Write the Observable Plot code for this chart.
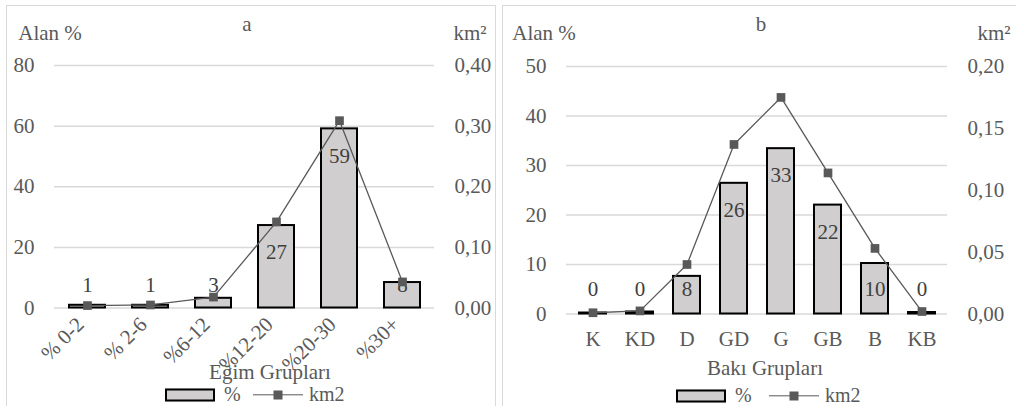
<!DOCTYPE html>
<html>
<head>
<meta charset="utf-8">
<script src="https://cdn.jsdelivr.net/npm/d3@7"></script>
<script src="https://cdn.jsdelivr.net/npm/@observablehq/plot@0.6"></script>
<style>
  body { margin: 0; background: #fff; }
  #page { position: relative; width: 1016px; height: 406px; overflow: hidden; font-family: "Liberation Serif", serif; color: #595959; }
  .panel { position: absolute; border: 1.5px solid #d9d9d9; box-sizing: border-box; }
  .lbl { position: absolute; transform: translate(-50%, -50%); white-space: nowrap; font-size: 21px; line-height: 1; }
  .ltxt { position: absolute; transform: translate(0, -50%); white-space: nowrap; font-size: 20px; line-height: 1; }
  .svgwrap { position: absolute; top: 0; }
  .sw-bar { position: absolute; width: 50px; height: 13px; background: #d0cece; border: 2px solid #000; box-sizing: border-box; transform: translate(0, -50%); }
  .sw-line { position: absolute; width: 50px; height: 1.4px; background: #595959; transform: translate(0, -50%); }
  .sw-mark { position: absolute; width: 9px; height: 9px; background: #595959; transform: translate(-50%, -50%); }
</style>
</head>
<body>
<div id="page">
  <div class="panel" style="left:6px; top:5px; width:490px; height:420px;"></div>
  <div class="panel" style="left:502px; top:5px; width:530px; height:420px;"></div>
  <div id="a" class="svgwrap" style="left:0px;"></div>
  <div id="b" class="svgwrap" style="left:500px;"></div>

  <div class="lbl" style="left:247px; top:24px;">a</div>
  <div class="lbl" style="left:50px; top:33px;">Alan %</div>
  <div class="lbl" style="left:470px; top:33px;">km²</div>
  <div class="lbl" style="left:270px; top:372px;">Eğim Grupları</div>
  <div class="sw-bar" style="left:165px; top:395px;"></div>
  <div class="ltxt" style="left:224px; top:394px;">%</div>
  <div class="sw-line" style="left:253px; top:395px;"></div>
  <div class="sw-mark" style="left:278px; top:395px;"></div>
  <div class="ltxt" style="left:309px; top:394px;">km2</div>

  <div class="lbl" style="left:761px; top:24px;">b</div>
  <div class="lbl" style="left:544px; top:33px;">Alan %</div>
  <div class="lbl" style="left:994px; top:33px;">km²</div>
  <div class="lbl" style="left:765px; top:368px;">Bakı Grupları</div>
  <div class="sw-bar" style="left:676px; top:396px;"></div>
  <div class="ltxt" style="left:735px; top:395px;">%</div>
  <div class="sw-line" style="left:769px; top:396px;"></div>
  <div class="sw-mark" style="left:794px; top:396px;"></div>
  <div class="ltxt" style="left:825px; top:395px;">km2</div>
</div>
<script>
// Panel a: slope groups
const slopeGroups = ["% 0-2", "% 2-6", "%6-12", "%12-20", "%20-30", "%30+"];
const slopePct = [0.9, 0.9, 3.2, 27.2, 59.1, 8.4];
const slopeKm2 = [0.004, 0.005, 0.018, 0.142, 0.309, 0.043];
const slopeLeftTicks = [0, 20, 40, 60, 80];
const slopeRightTicks = [0, 0.10, 0.20, 0.30, 0.40];

// Panel b: aspect groups
const aspectGroups = ["K", "KD", "D", "GD", "G", "GB", "B", "KB"];
const aspectPct = [0.2, 0.4, 7.6, 26.4, 33.4, 22.0, 10.2, 0.3];
const aspectKm2 = [0.001, 0.0025, 0.040, 0.137, 0.175, 0.114, 0.053, 0.002];
const aspectLeftTicks = [0, 10, 20, 30, 40, 50];
const aspectRightTicks = [0, 0.05, 0.10, 0.15, 0.20];

const fmtKm = v => v.toFixed(2).replace(".", ",");

function panel({cats, pct, km2, leftTicks, rightTicks, width, height, margins, rotate, lowDy}) {
  const yMax = leftTicks[leftTicks.length - 1];
  const kMax = rightTicks[rightTicks.length - 1];
  const k = yMax / kMax;
  const rows = cats.map((c, i) => ({cat: c, pct: pct[i], km: km2[i] * k, label: String(Math.round(pct[i]))}));
  const big = rows.filter(d => d.pct >= 15);
  const small = rows.filter(d => d.pct < 15);
  return Plot.plot({
    width, height,
    ...margins,
    style: {fontFamily: "Liberation Serif, serif", fontSize: "21px", color: "#595959", background: "transparent"},
    x: {domain: cats, paddingInner: 0.43, paddingOuter: 0.215, label: null},
    y: {domain: [0, yMax], label: null},
    marks: [
      Plot.gridY(leftTicks, {stroke: "#d9d9d9", strokeOpacity: 1, strokeWidth: 1.5}),
      Plot.axisY(leftTicks, {anchor: "left", tickSize: 0, tickPadding: 20, label: null, color: "#595959"}),
      Plot.axisY(rightTicks.map(t => t * k), {anchor: "right", tickSize: 0, tickPadding: 20, label: null, color: "#595959", tickFormat: v => fmtKm(v / k)}),
      rotate
        ? Plot.axisX({tickSize: 0, tickPadding: 6, tickRotate: -45, dx: -7, dy: 7, label: null, color: "#595959"})
        : Plot.axisX({tickSize: 0, tickPadding: 17, label: null, color: "#595959"}),
      Plot.barY(rows, {x: "cat", y: "pct", fill: "#d0cece", stroke: "#000", strokeWidth: 2}),
      Plot.text(big, {x: "cat", y: "pct", text: "label", dy: 27, fill: "#404040"}),
      Plot.text(small, {x: "cat", y: 0, text: "label", dy: lowDy, fill: "#404040"}),
      Plot.line(rows, {x: "cat", y: "km", stroke: "#595959", strokeWidth: 1.3}),
      Plot.dot(rows, {x: "cat", y: "km", symbol: "square", r: 4.9, fill: "#595959", stroke: "none"})
    ]
  });
}

document.getElementById("a").append(panel({
  cats: slopeGroups, pct: slopePct, km2: slopeKm2,
  leftTicks: slopeLeftTicks, rightTicks: slopeRightTicks,
  width: 500, height: 406,
  margins: {marginLeft: 54, marginRight: 66, marginTop: 65, marginBottom: 98.5},
  rotate: true, lowDy: -23
}));

document.getElementById("b").append(panel({
  cats: aspectGroups, pct: aspectPct, km2: aspectKm2,
  leftTicks: aspectLeftTicks, rightTicks: aspectRightTicks,
  width: 516, height: 406,
  margins: {marginLeft: 66, marginRight: 69, marginTop: 66, marginBottom: 92.5},
  rotate: false, lowDy: -25
}));
</script>
</body>
</html>
